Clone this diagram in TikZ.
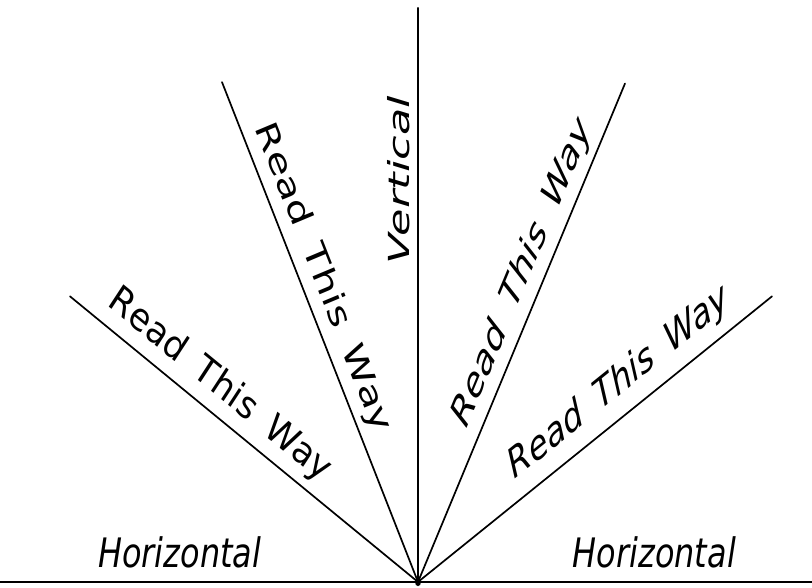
\documentclass[tikz,border=0pt]{standalone}
\usepackage{fontspec}
\setmainfont{DejaVu Sans}[FakeStretch=1.1, WordSpace=1.7]
\usetikzlibrary{calc}

\tikzset{
    ray/.style={line width=1.7pt, line cap=round},
    base line/.style={line width=2.4pt},
    letter/.style={font=\fontsize{29}{31}\selectfont\itshape, inner sep=0pt}
}

\begin{document}
\begin{tikzpicture}[x=1pt, y=1pt, yscale=1.4, transform shape]
    \useasboundingbox (-418,-4.3) rectangle (394,415.7);

    % ==========================================
    % Origin and end points of the rays (about 30 degree steps)
    % ==========================================
    \coordinate (O) at (0,0);
    \coordinate (HL) at (-418,0);
    \coordinate (HR) at (394,0);
    \coordinate (RL) at (354,204);
    \coordinate (RU) at (207,356);
    \coordinate (V) at (0,410);
    \coordinate (LU) at (-196,357);
    \coordinate (LL) at (-348,204);

    % Horizontal base line
    \draw[base line] (HL) -- (O)
        node[letter, pos=0.43, above=8.5pt] (hleft) {Horizontal};
    \draw[base line] (O) -- (HR)
        node[letter, pos=0.60, above=8.5pt] (hright) {Horizontal};

    % Vertical ray
    \draw[ray] (O) -- (V)
        node[letter, pos=0.70, sloped, above=7pt] (vert) {Vertical};

    % Left rays, read from the outer end down to the origin
    \draw[ray] (LL) -- (O)
        node[letter, pos=0.40, sloped, above=6pt] (readll) {Read This Way};
    \draw[ray] (LU) -- (O)
        node[letter, pos=0.42, sloped, above=6pt] (readlu) {Read This Way};

    % Right rays, read from the origin up
    \draw[ray] (O) -- (RU)
        node[letter, pos=0.59, sloped, above=6pt] (readru) {Read This Way};
    \draw[ray] (O) -- (RL)
        node[letter, pos=0.60, sloped, above=8pt] (readrl) {Read This Way};

    % Dot where the rays meet
    \fill (O) circle (3pt);
\end{tikzpicture}
\end{document}
